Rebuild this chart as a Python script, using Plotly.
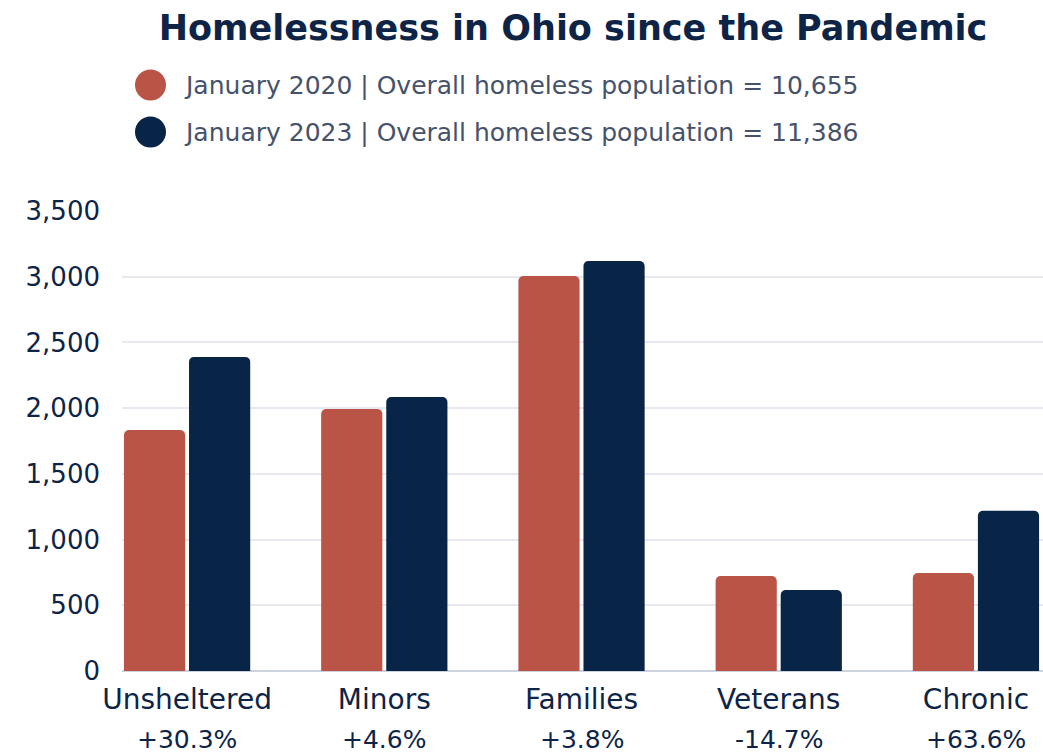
import plotly.graph_objects as go

# Point-in-time counts by subgroup
categories = ["Unsheltered", "Minors", "Families", "Veterans", "Chronic"]
count_2020 = [1834, 1993, 3006, 722, 745]
count_2023 = [2390, 2085, 3120, 616, 1219]
change_labels = ["+30.3%", "+4.6%", "+3.8%", "-14.7%", "+63.6%"]
series_names = [
    "January 2020 | Overall homeless population = 10,655",
    "January 2023 | Overall homeless population = 11,386",
]
y_ticks = [0, 500, 1000, 1500, 2000, 2500, 3000, 3500]

RED = "#B95446"
NAVY = "#082548"
TEXT = "#0D2447"
FONT = "DejaVu Sans"

fig = go.Figure()
for name, vals, color in [(series_names[0], count_2020, RED), (series_names[1], count_2023, NAVY)]:
    fig.add_trace(go.Bar(
        x=categories, y=vals, name=name, marker=dict(color=color, line=dict(width=0)),
        showlegend=False, hoverinfo="x+y",
    ))

fig.update_layout(
    width=1043, height=754,
    margin=dict(l=122, r=0, t=211, b=83),
    paper_bgcolor="white", plot_bgcolor="white",
    barmode="group", bargap=0.34, bargroupgap=0.06, barcornerradius=5,
    font=dict(family=FONT, color=TEXT),
    title=dict(text="Homelessness in Ohio since the Pandemic", x=573 / 1043, xanchor="center",
               y=1 - 28 / 754, yanchor="middle",
               font=dict(size=35, color=TEXT, family=FONT, weight="bold")),
)

fig.update_xaxes(
    range=[-0.33, 4.34], showgrid=False, showline=False, ticks="",
    tickfont=dict(size=28, color=TEXT, family=FONT), ticklabelstandoff=9,
)
fig.update_yaxes(
    range=[0, 3500], tickvals=y_ticks, tickformat=",d",
    gridcolor="#E6E9F0", gridwidth=2, zeroline=True, zerolinecolor="#CDD3DE", zerolinewidth=2,
    showline=False, ticks="", tickfont=dict(size=26, color=TEXT, family=FONT), ticklabelstandoff=21,
)

# Percentage change under each category name
for cat, lab in zip(categories, change_labels):
    fig.add_annotation(x=cat, y=-(739 - 671) / 460, xref="x", yref="paper", text=lab, showarrow=False,
                       yanchor="middle", font=dict(size=25, color=TEXT, family=FONT))

# Legend drawn as circle swatches with text
for i, (name, color) in enumerate([(series_names[0], RED), (series_names[1], NAVY)]):
    yc = 85 + i * 47
    fig.add_shape(type="circle", xref="paper", yref="paper",
                  x0=(135 - 122) / 921, x1=(166 - 122) / 921,
                  y0=(754 - 83 - (yc + 15.5)) / 460, y1=(754 - 83 - (yc - 15.5)) / 460,
                  fillcolor=color, line=dict(width=0))
    fig.add_annotation(x=(182 - 122) / 921, y=(754 - 83 - yc) / 460, xref="paper", yref="paper",
                       text=name, showarrow=False, xanchor="left", yanchor="middle",
                       font=dict(size=25, color="#46526A", family=FONT))

fig.write_html("out.html")
